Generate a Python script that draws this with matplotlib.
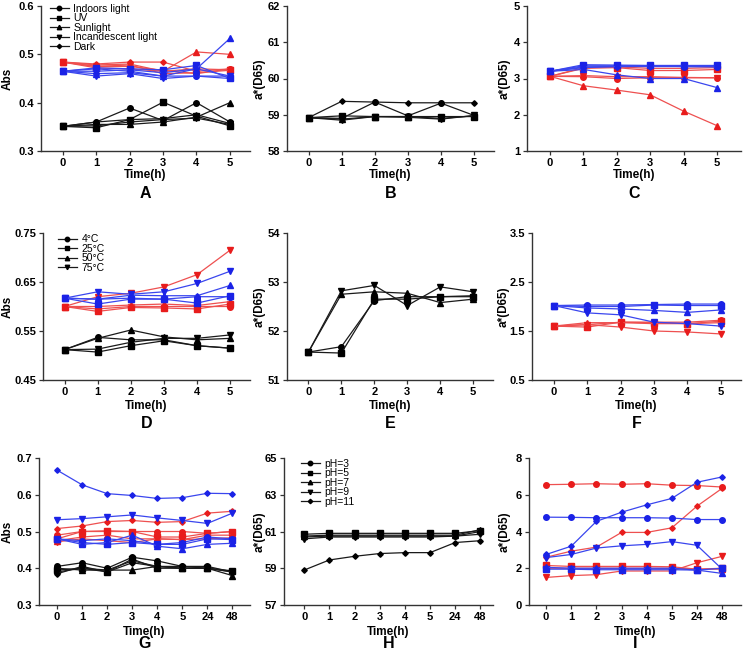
import matplotlib.pyplot as plt

plt.rcParams['font.family'] = ['Liberation Sans', 'DejaVu Sans']

W, H = 743, 651

# ---- x axes / legends ----
hours_short = [0, 1, 2, 3, 4, 5]
hours_long = ['0', '1', '2', '3', '4', '5', '24', '48']
light_labels = ['Indoors light', 'UV', 'Sunlight', 'Incandescent light', 'Dark']
temp_labels = ['4°C', '25°C', '50°C', '75°C']
ph_labels = ['pH=3', 'pH=5', 'pH=7', 'pH=9', 'pH=11']

# ---- A: Abs under light ----
A_black = [[0.351, 0.360, 0.389, 0.363, 0.400, 0.360],
           [0.351, 0.348, 0.365, 0.401, 0.372, 0.352],
           [0.351, 0.355, 0.355, 0.360, 0.370, 0.400],
           [0.351, 0.352, 0.360, 0.365, 0.368, 0.355],
           [0.351, 0.360, 0.365, 0.367, 0.375, 0.357]]
A_red = [[0.484, 0.475, 0.475, 0.467, 0.460, 0.470],
         [0.484, 0.472, 0.470, 0.465, 0.470, 0.468],
         [0.484, 0.478, 0.480, 0.465, 0.505, 0.500],
         [0.484, 0.475, 0.478, 0.460, 0.462, 0.467],
         [0.484, 0.480, 0.484, 0.484, 0.465, 0.470]]
A_blue = [[0.465, 0.470, 0.465, 0.455, 0.455, 0.450],
          [0.465, 0.472, 0.470, 0.468, 0.477, 0.450],
          [0.465, 0.460, 0.462, 0.455, 0.470, 0.533],
          [0.465, 0.455, 0.460, 0.450, 0.455, 0.455],
          [0.465, 0.465, 0.468, 0.462, 0.470, 0.455]]

# ---- B: a* under light (black sample) ----
B_black = [[58.92, 58.90, 59.35, 58.97, 59.32, 58.98],
           [58.92, 58.97, 58.95, 58.95, 58.95, 58.95],
           [58.92, 58.88, 58.95, 58.95, 58.90, 58.97],
           [58.92, 58.85, 58.95, 58.93, 58.88, 58.98],
           [58.92, 59.37, 59.35, 59.33, 59.33, 59.33]]

# ---- C: a* under light (red / blue samples) ----
C_red = [[3.06, 3.05, 3.00, 3.02, 3.02, 3.02],
         [3.06, 3.28, 3.30, 3.22, 3.22, 3.25],
         [3.06, 2.80, 2.68, 2.55, 2.10, 1.70],
         [3.06, 3.08, 3.05, 3.05, 3.03, 3.02],
         [3.06, 3.30, 3.32, 3.28, 3.28, 3.30]]
C_blue = [[3.20, 3.35, 3.35, 3.35, 3.33, 3.33],
          [3.20, 3.38, 3.37, 3.36, 3.36, 3.36],
          [3.20, 3.25, 3.10, 3.00, 3.00, 2.75],
          [3.20, 3.30, 3.33, 3.33, 3.33, 3.32],
          [3.20, 3.32, 3.33, 3.34, 3.34, 3.34]]

# ---- D: Abs under temperature ----
D_black = [[0.512, 0.537, 0.532, 0.532, 0.520, 0.515],
           [0.512, 0.507, 0.520, 0.530, 0.520, 0.515],
           [0.512, 0.535, 0.552, 0.538, 0.532, 0.535],
           [0.512, 0.513, 0.527, 0.535, 0.535, 0.542]]
D_red = [[0.600, 0.595, 0.600, 0.600, 0.600, 0.600],
         [0.600, 0.590, 0.598, 0.597, 0.595, 0.605],
         [0.600, 0.600, 0.603, 0.605, 0.602, 0.610],
         [0.600, 0.620, 0.627, 0.640, 0.665, 0.715]]
D_blue = [[0.617, 0.615, 0.617, 0.615, 0.620, 0.620],
          [0.617, 0.605, 0.615, 0.615, 0.607, 0.622],
          [0.617, 0.615, 0.623, 0.622, 0.622, 0.643],
          [0.617, 0.630, 0.625, 0.630, 0.647, 0.672]]

# ---- E: a* under temperature (black sample) ----
E_black = [[51.57, 51.68, 52.62, 52.70, 52.70, 52.72],
           [51.57, 51.55, 52.65, 52.65, 52.70, 52.70],
           [51.57, 52.75, 52.80, 52.77, 52.58, 52.65],
           [51.57, 52.82, 52.93, 52.52, 52.90, 52.80]]

# ---- F: a* under temperature (red / blue samples) ----
F_red = [[1.60, 1.63, 1.68, 1.68, 1.68, 1.72],
         [1.60, 1.58, 1.68, 1.67, 1.65, 1.70],
         [1.60, 1.67, 1.67, 1.65, 1.65, 1.67],
         [1.60, 1.63, 1.58, 1.50, 1.48, 1.44]]
F_blue = [[2.02, 2.03, 2.03, 2.04, 2.05, 2.05],
          [2.02, 2.00, 2.00, 2.03, 2.02, 2.02],
          [2.02, 1.97, 1.95, 1.92, 1.88, 1.93],
          [2.02, 1.87, 1.83, 1.68, 1.65, 1.60]]

# ---- G: Abs under pH ----
G_black = [[0.405, 0.415, 0.400, 0.430, 0.420, 0.405, 0.405, 0.390],
           [0.395, 0.400, 0.390, 0.425, 0.400, 0.400, 0.400, 0.393],
           [0.400, 0.395, 0.395, 0.395, 0.405, 0.400, 0.400, 0.380],
           [0.390, 0.400, 0.395, 0.420, 0.405, 0.400, 0.400, 0.390],
           [0.385, 0.405, 0.390, 0.415, 0.405, 0.405, 0.400, 0.390]]
G_red = [[0.490, 0.500, 0.500, 0.500, 0.500, 0.500, 0.495, 0.500],
         [0.480, 0.500, 0.502, 0.500, 0.485, 0.485, 0.495, 0.500],
         [0.475, 0.485, 0.490, 0.480, 0.480, 0.478, 0.490, 0.490],
         [0.472, 0.480, 0.475, 0.470, 0.480, 0.478, 0.480, 0.483],
         [0.508, 0.515, 0.527, 0.530, 0.525, 0.527, 0.550, 0.555]]
G_blue = [[0.480, 0.475, 0.480, 0.475, 0.465, 0.470, 0.485, 0.480],
          [0.480, 0.470, 0.465, 0.470, 0.465, 0.465, 0.480, 0.478],
          [0.480, 0.465, 0.470, 0.490, 0.460, 0.453, 0.465, 0.468],
          [0.532, 0.535, 0.540, 0.545, 0.537, 0.530, 0.522, 0.550],
          [0.667, 0.627, 0.603, 0.598, 0.590, 0.592, 0.604, 0.603]]

# ---- H: a* under pH (black sample) ----
H_black = [[60.70, 60.75, 60.75, 60.75, 60.75, 60.75, 60.75, 61.00],
           [60.85, 60.90, 60.90, 60.90, 60.90, 60.90, 60.90, 61.05],
           [60.75, 60.80, 60.80, 60.80, 60.80, 60.80, 60.80, 61.10],
           [60.60, 60.70, 60.70, 60.70, 60.70, 60.70, 60.75, 60.85],
           [58.90, 59.45, 59.65, 59.80, 59.85, 59.85, 60.40, 60.50]]

# ---- I: a* under pH (red / blue samples) ----
I_red = [[6.55, 6.57, 6.60, 6.57, 6.60, 6.52, 6.50, 6.42],
         [2.15, 2.10, 2.10, 2.10, 2.10, 2.08, 1.95, 2.00],
         [2.00, 2.00, 2.00, 2.00, 2.00, 2.00, 1.95, 1.95],
         [1.50, 1.60, 1.65, 1.85, 1.85, 1.85, 2.30, 2.65],
         [2.60, 2.93, 3.15, 3.95, 3.95, 4.20, 5.38, 6.35]]
I_blue = [[4.78, 4.77, 4.75, 4.75, 4.75, 4.73, 4.65, 4.65],
          [1.95, 1.95, 1.92, 1.92, 1.92, 1.92, 1.90, 2.00],
          [2.05, 2.00, 2.00, 2.00, 2.00, 2.00, 1.90, 1.72],
          [2.58, 2.75, 3.10, 3.22, 3.30, 3.45, 3.25, 1.95],
          [2.75, 3.20, 4.55, 5.05, 5.45, 5.80, 6.68, 6.97]]

MARKERS = ['o', 's', '^', 'v', 'D']
MSIZES = [4, 4, 4, 4, 2.8]
STYLE = {
    'black': dict(line='#1a1a1a', mark='#000000'),
    'red': dict(line='#ee5050', mark='#e81c1c'),
    'blue': dict(line='#3a46ee', mark='#1a22e6'),
}

fig = plt.figure(figsize=(W / 100, H / 100), dpi=100)


def px_rect(left, top, right, bottom):
    return [left / W, 1 - bottom / H, (right - left) / W, (bottom - top) / H]


def draw_panel(box, groups, xlabels, xlim, yticks, ylabel, letter,
               legend=None, leg_at=(0.04, 1.0), lab_off=(24, 42), ylab_dx=30):
    ax = fig.add_axes(px_rect(*box))
    xs = list(range(len(xlabels)))
    for color, series in groups:
        st = STYLE[color]
        for i, vals in enumerate(series):
            ax.plot(xs, vals, color=st['line'], lw=0.9, marker=MARKERS[i],
                    ms=MSIZES[i], mfc=st['mark'], mec=st['mark'],
                    label=legend[i] if (legend and color == 'black') else None)
    ax.set_xlim(*xlim)
    ax.set_ylim(yticks[0], yticks[-1])
    ax.set_yticks(yticks)
    ax.set_xticks(xs)
    ax.set_xticklabels(xlabels)
    for s in ['top', 'right']:
        ax.spines[s].set_visible(False)
    for s in ['left', 'bottom']:
        ax.spines[s].set_linewidth(1.0)
        ax.spines[s].set_color('#333333')
    ax.tick_params(direction='out', length=3, width=0.9, color='#333333',
                   labelsize=8, pad=2)
    for t in ax.get_xticklabels() + ax.get_yticklabels():
        t.set_fontweight('bold')
    # y label placed at a fixed pixel distance left of the spine
    ax.annotate(ylabel, xy=(0, 0.5), xycoords='axes fraction',
                xytext=(-ylab_dx, 0), textcoords='offset pixels', rotation=90,
                ha='center', va='center', fontsize=8.5, fontweight='bold')
    ax.annotate('Time(h)', xy=(0.5, 0), xycoords='axes fraction',
                xytext=(0, -lab_off[0]), textcoords='offset pixels',
                ha='center', va='center', fontsize=8.5, fontweight='bold')
    ax.annotate(letter, xy=(0.5, 0), xycoords='axes fraction',
                xytext=(0, -lab_off[1]), textcoords='offset pixels',
                ha='center', va='center', fontsize=11.5, fontweight='bold')
    if legend:
        ax.legend(loc='upper left', bbox_to_anchor=leg_at, frameon=False,
                  fontsize=7.5, labelspacing=-0.05, handlelength=1.8,
                  handletextpad=0.45, borderpad=0, borderaxespad=0,
                  markerscale=0.8)
    return ax


short_lim = (-0.65, 5.6)
long_lim = (-0.72, 7.7)

draw_panel((41, 6, 250, 151), [('black', A_black), ('red', A_red), ('blue', A_blue)],
           hours_short, short_lim, [0.3, 0.4, 0.5, 0.6], 'Abs', 'A',
           legend=light_labels, leg_at=(0.043, 1.015), ylab_dx=33)
draw_panel((287, 6, 494, 151), [('black', B_black)],
           hours_short, short_lim, [58, 59, 60, 61, 62], 'a*(D65)', 'B', ylab_dx=27)
draw_panel((527, 6, 741, 151), [('red', C_red), ('blue', C_blue)],
           hours_short, (-0.69, 5.72), [1, 2, 3, 4, 5], 'a*(D65)', 'C', ylab_dx=22)

draw_panel((43, 233, 250, 380), [('black', D_black), ('red', D_red), ('blue', D_blue)],
           hours_short, short_lim, [0.45, 0.55, 0.65, 0.75], 'Abs', 'D',
           legend=temp_labels, leg_at=(0.072, 0.99), lab_off=(26, 44), ylab_dx=35)
draw_panel((287, 233, 493, 380), [('black', E_black)],
           hours_short, short_lim, [51, 52, 53, 54], 'a*(D65)', 'E',
           lab_off=(26, 44), ylab_dx=27)
draw_panel((532, 233, 741, 380), [('red', F_red), ('blue', F_blue)],
           hours_short, short_lim, [0.5, 1.5, 2.5, 3.5], 'a*(D65)', 'F',
           lab_off=(26, 44), ylab_dx=28)

draw_panel((39, 458, 250, 605), [('black', G_black), ('red', G_red), ('blue', G_blue)],
           hours_long, long_lim, [0.3, 0.4, 0.5, 0.6, 0.7], 'Abs', 'G',
           lab_off=(27, 39), ylab_dx=31)
draw_panel((284, 458, 493, 605), [('black', H_black)],
           hours_long, (-0.8, 7.5), [57, 59, 61, 63, 65], 'a*(D65)', 'H',
           legend=ph_labels, leg_at=(0.081, 0.995), lab_off=(27, 39), ylab_dx=24)
draw_panel((529, 458, 741, 605), [('red', I_red), ('blue', I_blue)],
           hours_long, (-0.68, 7.75), [0, 2, 4, 6, 8], 'a*(D65)', 'I',
           lab_off=(27, 39), ylab_dx=24)

fig.savefig('out.png', dpi=100)
